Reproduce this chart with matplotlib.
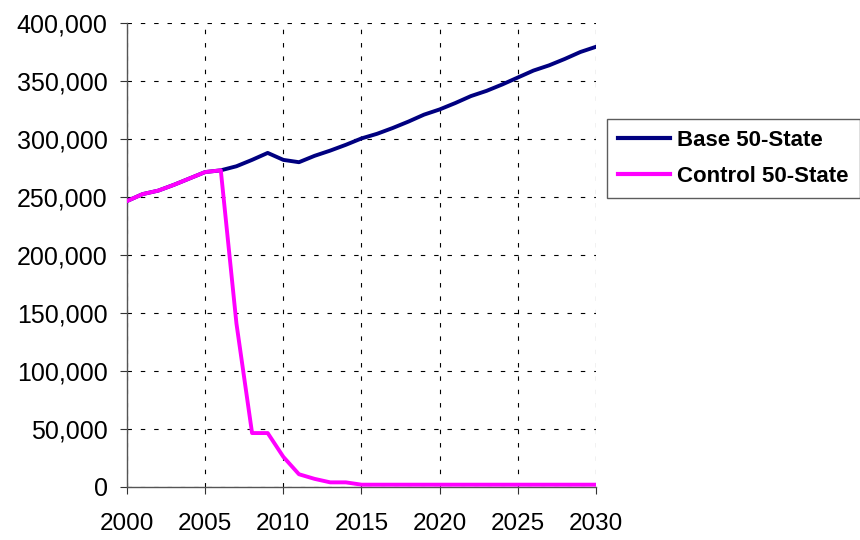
import matplotlib
matplotlib.use("Agg")
import matplotlib.pyplot as plt
from matplotlib.ticker import FuncFormatter, MultipleLocator

years = list(range(2000, 2031))
base = [246500, 252500, 255500, 260500, 266000, 271500, 273000, 276500, 282000, 288000,
        282000, 280000, 285500, 290000, 295000, 300500, 304500, 309500, 315000, 321000,
        325500, 331000, 337000, 341500, 347000, 353000, 359000, 363500, 369000, 375000, 379500]
control = [246500, 252500, 255500, 260500, 266000, 271500, 273000, 141000, 46500, 46500,
           26000, 11000, 7000, 4000, 4000, 2000, 2000, 2000, 2000, 2000,
           2000, 2000, 2000, 2000, 2000, 2000, 2000, 2000, 2000, 2000, 2000]
series_names = ["Base 50-State", "Control 50-State"]
colors = ["#000080", "#FF00FF"]

plt.rcParams['font.family'] = ['Liberation Sans', 'DejaVu Sans']

fig = plt.figure(figsize=(8.6, 5.4), dpi=100)
ax = fig.add_axes([127/860, 53/540, (596-127)/860, (487-23)/540])

ax.plot(years, base, color=colors[0], lw=2.8, label=series_names[0], solid_joinstyle='round', zorder=3)
ax.plot(years, control, color=colors[1], lw=2.8, label=series_names[1], solid_joinstyle='round', zorder=4)

ax.set_xlim(2000, 2030)
ax.set_ylim(0, 400000)
ax.xaxis.set_major_locator(MultipleLocator(5))
ax.yaxis.set_major_locator(MultipleLocator(50000))
ax.yaxis.set_major_formatter(FuncFormatter(lambda v, p: f"{int(v):,}"))

ax.grid(True, color='black', linestyle=(0, (4, 8)), linewidth=0.8)
for s in ['top', 'right']:
    ax.spines[s].set_visible(False)
for s in ['left', 'bottom']:
    ax.spines[s].set_color('#555555')
    ax.spines[s].set_linewidth(1.0)
ax.tick_params(axis='both', direction='out', length=5, color='#333333')
ax.tick_params(axis='y', labelsize=18, pad=9)
ax.tick_params(axis='x', labelsize=17.5, pad=14)

leg = fig.legend(loc='upper left', bbox_to_anchor=(607/860, 1 - 119/540),
                 prop={'weight': 'bold', 'size': 16}, frameon=True, fancybox=False,
                 edgecolor='#333333', handlelength=2.35, handletextpad=0.3,
                 borderpad=0.5, labelspacing=0.65, borderaxespad=0)
leg.get_frame().set_linewidth(1.0)
for line in leg.get_lines():
    line.set_linewidth(3)

fig.savefig("out.png", dpi=100)
